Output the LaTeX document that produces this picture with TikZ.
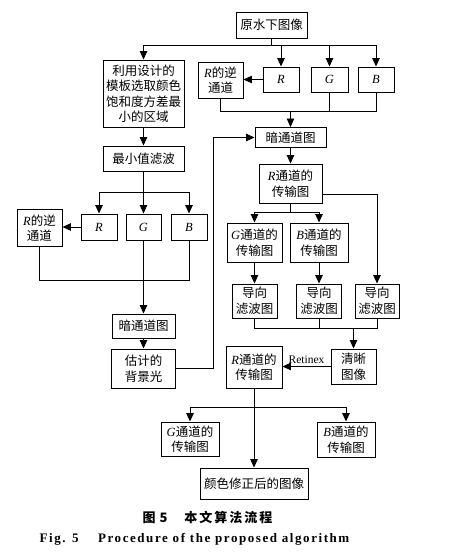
\documentclass[tikz,border=0pt]{standalone}
\usepackage{fontspec}
\setmainfont{Liberation Serif}
\newfontfamily\cjk{Noto Sans CJK SC}
\usetikzlibrary{arrows.meta,calc}
\newcommand\lat[1]{{\rmfamily\itshape #1}}
\tikzset{
  bx/.style={draw, line width=0.95pt, inner sep=0pt, align=center,
    font=\cjk\fontsize{12.5}{15.5}\selectfont},
  ln/.style={line width=0.9pt},
  ar/.style={line width=0.9pt, -{Triangle[length=8.5pt,width=7.5pt]}},
}
\begin{document}
\begin{tikzpicture}[x=1pt,y=-1pt]
\useasboundingbox (0,0) rectangle (453,559);
% top branch
\node[bx, minimum width=71pt, minimum height=26pt] (src) at (271.5,25) {原水下图像};
\node[bx, minimum width=81pt, minimum height=67pt] (tmpl) at (143.5,93.5) {利用设计的\\模板选取颜色\\饱和度方差最\\小的区域};
\node[bx, minimum width=36pt, minimum height=25pt] (Rt) at (281,79.5) {\lat{R}};
\node[bx, minimum width=37pt, minimum height=25pt] (Gt) at (329.5,79.5) {\lat{G}};
\node[bx, minimum width=36pt, minimum height=25pt] (Bt) at (376,79.5) {\lat{B}};
\node[bx, minimum width=45pt, minimum height=36pt] (RinvT) at (220.5,80) {\lat{R}的逆\\通道};
\node[bx, minimum width=71pt, minimum height=20pt] (dark1) at (290.5,137.5) {暗通道图};
\node[bx, minimum width=63pt, minimum height=39pt] (Rtrans1) at (290.5,183.5) {\lat{R}通道的\\传输图};
\node[bx, minimum width=55pt, minimum height=39pt] (Gtrans1) at (254.5,242.5) {\lat{G}通道的\\传输图};
\node[bx, minimum width=58pt, minimum height=39pt] (Btrans1) at (319,242.5) {\lat{B}通道的\\传输图};
\node[bx, minimum width=45pt, minimum height=34pt] (gf1) at (254.5,301) {导向\\滤波图};
\node[bx, minimum width=45pt, minimum height=34pt] (gf2) at (319,301) {导向\\滤波图};
\node[bx, minimum width=44pt, minimum height=34pt] (gf3) at (377,301) {导向\\滤波图};
\node[bx, minimum width=45pt, minimum height=35pt] (clear) at (353.5,366.5) {清晰\\图像};
\node[bx, minimum width=56pt, minimum height=42pt] (Rtrans2) at (254,367) {\lat{R}通道的\\传输图};
% left branch
\node[bx, minimum width=81pt, minimum height=25pt] (minf) at (143.5,158.5) {最小值滤波};
\node[bx, minimum width=36pt, minimum height=26pt] (Rl) at (99,227) {\lat{R}};
\node[bx, minimum width=35pt, minimum height=26pt] (Gl) at (143.5,227) {\lat{G}};
\node[bx, minimum width=36pt, minimum height=26pt] (Bl) at (189,227) {\lat{B}};
\node[bx, minimum width=45pt, minimum height=37pt] (RinvL) at (39.5,228) {\lat{R}的逆\\通道};
\node[bx, minimum width=63pt, minimum height=24pt] (dark2) at (143.5,326) {暗通道图};
\node[bx, minimum width=64pt, minimum height=39pt] (bg) at (143.5,368.5) {估计的\\背景光};
% bottom
\node[bx, minimum width=58pt, minimum height=34pt] (Gtrans2) at (190,439) {\lat{G}通道的\\传输图};
\node[bx, minimum width=58pt, minimum height=35pt] (Btrans2) at (346,439.5) {\lat{B}通道的\\传输图};
\node[bx, minimum width=108pt, minimum height=31pt] (final) at (254,483.5) {颜色修正后的图像};
% captions
\node[font=\cjk\bfseries\fontsize{13}{13}\selectfont, inner sep=0pt] (cap1) at (207.5,517)
  {图\hspace{4pt}5\hspace{1.3em}本\hspace{2pt}文\hspace{2pt}算\hspace{2pt}法\hspace{2pt}流\hspace{2pt}程};
\node[font=\bfseries\fontsize{13}{13}\selectfont\addfontfeature{LetterSpace=12}, inner sep=0pt] (cap2) at (194.5,539)
  {Fig. 5\hspace{1.5em}Procedure of the proposed algorithm};
% connectors top
\coordinate (tb) at (271.5,45);
\draw[ln] (src.south) -- (tb);
\draw[ar] (tb) -| (tmpl.north);
\draw[ar] (tb) -| (Bt.north);
\draw[ar] (Rt.north |- tb) -- (Rt.north);
\draw[ar] (Gt.north |- tb) -- (Gt.north);
\draw[ar] (Rt.west) -- (RinvT.east |- Rt.west);
\coordinate (b2) at (290.5,111);
\draw[ln] (RinvT.south) -- (RinvT.south |- b2) -- (Bt.south |- b2) -- (Bt.south);
\draw[ln] (Gt.south) -- (Gt.south |- b2);
\draw[ar] (b2) -- (dark1.north);
\draw[ar] (dark1.south) -- (Rtrans1.north);
\draw[ar] ([yshift=-10.5pt]Rtrans1.east) -| (gf3.north);
\coordinate (b3) at (290.5,212);
\draw[ln] (Rtrans1.south) -- (b3);
\draw[ar] (b3) -| (Gtrans1.north);
\draw[ar] (b3) -| (Btrans1.north);
\draw[ar] (Gtrans1.south) -- (gf1.north);
\draw[ar] (Btrans1.south) -- (gf2.north);
\coordinate (b4) at (353.5,328);
\draw[ln] (gf1.south) -- (gf1.south |- b4) -- (gf3.south |- b4) -- (gf3.south);
\draw[ln] (gf2.south) -- (gf2.south |- b4);
\draw[ar] (b4) -- (clear.north);
\draw[ar] (clear.west) -- node[above, font=\fontsize{11.5}{12}\selectfont, inner sep=2pt] (ret) {Retinex} (Rtrans2.east |- clear.west);
\coordinate (b5) at (254,407);
\draw[ar] (Rtrans2.south) -- (final.north);
\draw[ar] (b5) -| (Gtrans2.north);
\draw[ar] (b5) -| (Btrans2.north);
% connectors left
\draw[ar] (tmpl.south) -- (minf.north);
\coordinate (b6) at (143.5,192);
\draw[ar] (minf.south) -- (Gl.north);
\draw[ar] (b6) -| (Rl.north);
\draw[ar] (b6) -| (Bl.north);
\draw[ar] (Rl.west) -- (RinvL.east |- Rl.west);
\coordinate (b7) at (143.5,280);
\draw[ln] (RinvL.south) -- (RinvL.south |- b7) -- (Bl.south |- b7) -- (Bl.south);
\draw[ar] (Gl.south) -- (dark2.north);
\draw[ar] (dark2.south) -- (bg.north);
\coordinate (lp) at (213,368.5);
\draw[ar] (bg.east) -- (lp) |- (dark1.west);
\end{tikzpicture}
\end{document}
